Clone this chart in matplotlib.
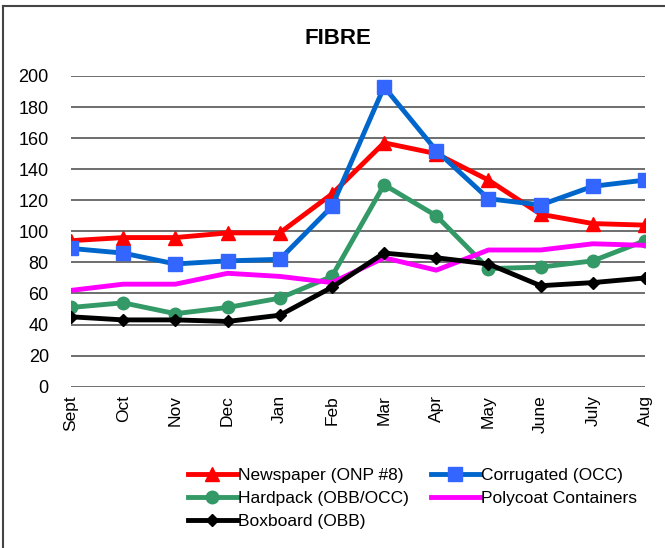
import matplotlib.pyplot as plt
from matplotlib.lines import Line2D

months = ['Sept', 'Oct', 'Nov', 'Dec', 'Jan', 'Feb', 'Mar', 'Apr', 'May', 'June', 'July', 'Aug']
newspaper = [94, 96, 96, 99, 99, 124, 157, 150, 133, 111, 105, 104]
corrugated = [89, 86, 79, 81, 82, 116, 193, 152, 121, 117, 129, 133]
hardpack = [51, 54, 47, 51, 57, 71, 130, 110, 76, 77, 81, 94]
polycoat = [62, 66, 66, 73, 71, 67, 83, 75, 88, 88, 92, 91]
boxboard = [45, 43, 43, 42, 46, 64, 86, 83, 79, 65, 67, 70]

plt.rcParams['font.family'] = ['Liberation Sans', 'DejaVu Sans']

fig = plt.figure(figsize=(6.65, 5.48), dpi=100)
ax = fig.add_axes([71/665, 1-386.7/548, 574/665, 310.7/548])

x = range(len(months))
l1, = ax.plot(x, newspaper, color='#ff0000', lw=3.5, marker='^', ms=10, label='Newspaper (ONP #8)', zorder=3)
l2, = ax.plot(x, corrugated, color='#0066cc', lw=3.5, marker='s', ms=10, mfc='#3366ff', mec='#3366ff',
              label='Corrugated (OCC)', zorder=3)
l3, = ax.plot(x, hardpack, color='#339966', lw=3.5, marker='o', ms=9, label='Hardpack (OBB/OCC)', zorder=3)
l4, = ax.plot(x, polycoat, color='#ff00ff', lw=3.5, label='Polycoat Containers', zorder=3)
l5, = ax.plot(x, boxboard, color='#000000', lw=3.5, marker='D', ms=6, label='Boxboard (OBB)', zorder=3)

ax.set_xlim(0, 11)
ax.set_ylim(0, 200)
ax.set_yticks(range(0, 201, 20))
ax.set_xticks(list(x))
ax.set_xticklabels(months, rotation=90, fontsize=12.5)
ax.tick_params(axis='y', labelsize=13, length=0, pad=16)
ax.tick_params(axis='x', length=0, pad=6)
ax.grid(axis='y', color='#555555', lw=1.2)
ax.set_axisbelow(True)
for s in ax.spines.values():
    s.set_visible(False)

fig.text(338/665, 1-38/548, 'FIBRE', ha='center', va='center', fontsize=16, fontweight='bold')

# legend is filled column by column, so order it to read row-wise like the original
handles = [l1, l3, l5, l2, l4]
fig.legend(handles, [h.get_label() for h in handles], ncol=2, loc='upper left',
           bbox_to_anchor=(188/665, 1-468/548),
           frameon=False, fontsize=12.5, handlelength=2.8, handletextpad=0.1,
           columnspacing=1.25, labelspacing=0.45, borderaxespad=0, borderpad=0)

# chart frame (left and top edges visible)
fig.add_artist(Line2D([3/665, 3/665], [0, 1-6/548], color='#444444', lw=1.5))
fig.add_artist(Line2D([3/665, 1], [1-6/548, 1-6/548], color='#444444', lw=1.5))

fig.savefig('out.png', dpi=100)
